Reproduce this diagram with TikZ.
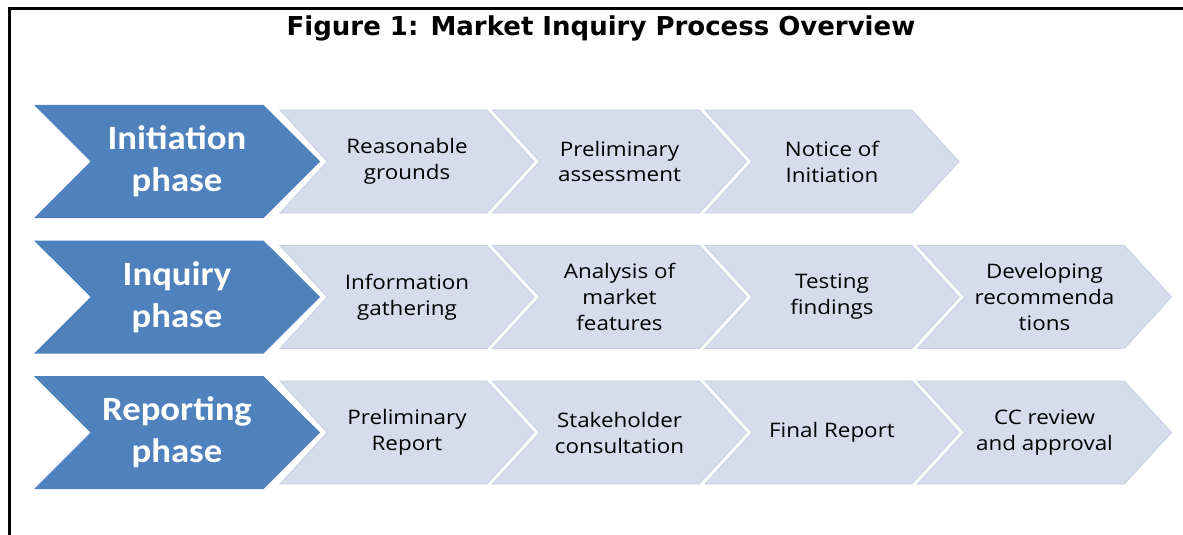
\documentclass[tikz,border=0pt]{standalone}
\usepackage{fontspec}
\setmainfont{Open Sans}[FakeStretch=1.12]
\newfontfamily\phasefont{Carlito}[FakeStretch=1.08]
\newfontfamily\titlefont{DejaVu Sans}
\usetikzlibrary{shapes.symbols}

\definecolor{phaseblue}{RGB}{79,129,189}
\definecolor{steplight}{RGB}{214,220,235}
\definecolor{stepedge}{RGB}{198,206,226}

\tikzset{
  phasebox/.style={signal, signal from=west, signal to=east,
    fill=phaseblue, text=white, inner sep=0pt, outer sep=0pt,
    minimum width=143pt, minimum height=56.5pt, align=center,
    font=\phasefont\bfseries\fontsize{17}{21}\selectfont},
  stepbox/.style={signal, signal from=west, signal to=east,
    signal pointer angle=95, fill=steplight, draw=stepedge, line width=0.4pt,
    preaction={draw=white, line width=2pt},
    inner sep=0pt, outer sep=0pt,
    minimum width=127pt, minimum height=51.5pt, align=center,
    font=\fontsize{10}{13}\selectfont}
}

\begin{document}
\begin{tikzpicture}[x=0.5pt,y=-0.5pt]
\useasboundingbox (0,0) rectangle (1183,535);
\draw[line width=1.5pt] (9,535) -- (9,9) -- (1183,9);

\node (title) at (601,28) {\titlefont\bfseries\fontsize{13}{15}\selectfont Figure 1: Market Inquiry Process Overview};

% phases
\begin{scope}[every node/.style={phasebox}]
    \node (init) at (177,161.5) {Initiation\\phase};
    \node (inq)  at (177,297)   {Inquiry\\phase};
    \node (rep)  at (177,432.5) {Reporting\\phase};
\end{scope}

% steps of each phase
\begin{scope}[every node/.style={stepbox}]
    \node (init1) at (407,161.5)   {Reasonable\\grounds};
    \node (init2) at (619.5,161.5) {Preliminary\\assessment};
    \node (init3) at (832,161.5)   {Notice of\\Initiation};

    \node (inq1) at (407,297)    {Information\\gathering};
    \node (inq2) at (619.5,297)  {Analysis of\\market\\features};
    \node (inq3) at (832,297)    {Testing\\findings};
    \node (inq4) at (1044.5,297) {Developing\\recommenda\\tions};

    \node (rep1) at (407,432.5)    {Preliminary\\Report};
    \node (rep2) at (619.5,432.5)  {Stakeholder\\consultation};
    \node (rep3) at (832,432.5)    {Final Report};
    \node (rep4) at (1044.5,432.5) {CC review\\and approval};
\end{scope}
\end{tikzpicture}
\end{document}
